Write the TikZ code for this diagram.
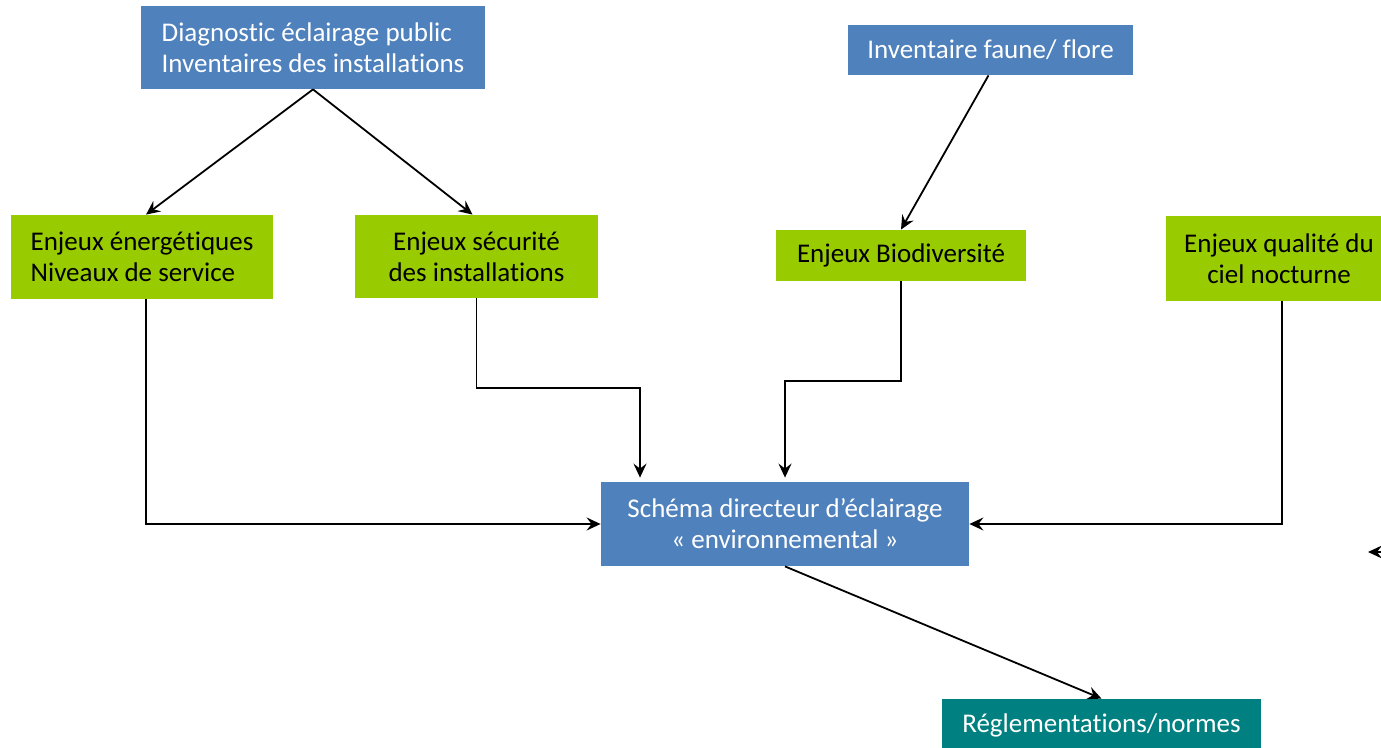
\documentclass[tikz,border=0pt]{standalone}
\usepackage{fontspec}
\setmainfont{Carlito}[Ligatures=NoCommon]
\usepackage{tikz}
\usetikzlibrary{arrows,arrows.meta}
\definecolor{bleu}{HTML}{4F81BD}
\definecolor{vert}{HTML}{99CC00}
\definecolor{canard}{HTML}{008080}

\begin{document}
\begin{tikzpicture}[x=0.5pt,y=-0.5pt,
every node/.style={inner sep=0pt,font=\fontsize{13.5}{15.5}\selectfont},
bleubox/.style={fill=bleu,text=white},
vertbox/.style={fill=vert,text=black},
fleche/.style={-{Stealth[length=7pt,width=6.5pt,inset=2.5pt]},line width=0.9pt}]
\useasboundingbox (0,0) rectangle (1381,748);

%sources
\node[bleubox,align=left,minimum width=172pt,minimum height=41.5pt](diag) at (313,47.5) {Diagnostic éclairage public\\Inventaires des installations};
\node[bleubox,minimum width=142.5pt,minimum height=25pt](faune) at (990.5,50) {Inventaire faune/ flore};

%enjeux
\node[vertbox,align=left,minimum width=131pt,minimum height=42pt](enjE) at (142,257) {Enjeux énergétiques\\Niveaux de service};
\node[vertbox,align=center,minimum width=121.5pt,minimum height=41.5pt](enjS) at (476.5,256.5) {Enjeux sécurité\\des installations};
\node[vertbox,minimum width=125pt,minimum height=25.5pt](enjB) at (901,255.5) {Enjeux Biodiversité};
\node[vertbox,align=center,minimum width=113pt,minimum height=42.5pt](enjQ) at (1279,258.5) {Enjeux qualité du\\ciel nocturne};

%schema et normes
\node[bleubox,align=center,minimum width=184pt,minimum height=42pt](sde) at (785,524) {Schéma directeur d’éclairage\\« environnemental »};
\node[fill=canard,text=white,minimum width=159.5pt,minimum height=26pt](regl) at (1101.5,725) {Réglementations/normes};

%fleches
\draw[fleche] (diag.south) -- ([xshift=2pt]enjE.north);
\draw[fleche] (diag.south) -- ([xshift=-2pt]enjS.north);
\draw[fleche] ([xshift=-1pt]faune.south) -- (enjB.north);
\draw[fleche] ([xshift=2pt]enjE.south) |- (sde.west);
\draw[fleche] (enjS.south) -- ++(0,90) -| ([xshift=-72.5pt,yshift=2pt]sde.north);
\draw[fleche] (enjB.south) -- ++(0,100) -| ([yshift=2pt]sde.north);
\draw[fleche] ([xshift=1.5pt]enjQ.south) |- (sde.east);
\draw[fleche] (sde.south) -- (regl.north);

%pointe au bord
\coordinate(hors) at (1384,552);
\coordinate(pointe) at (1368,552);
\draw[fleche] (hors) -- (pointe);
\end{tikzpicture}
\end{document}
